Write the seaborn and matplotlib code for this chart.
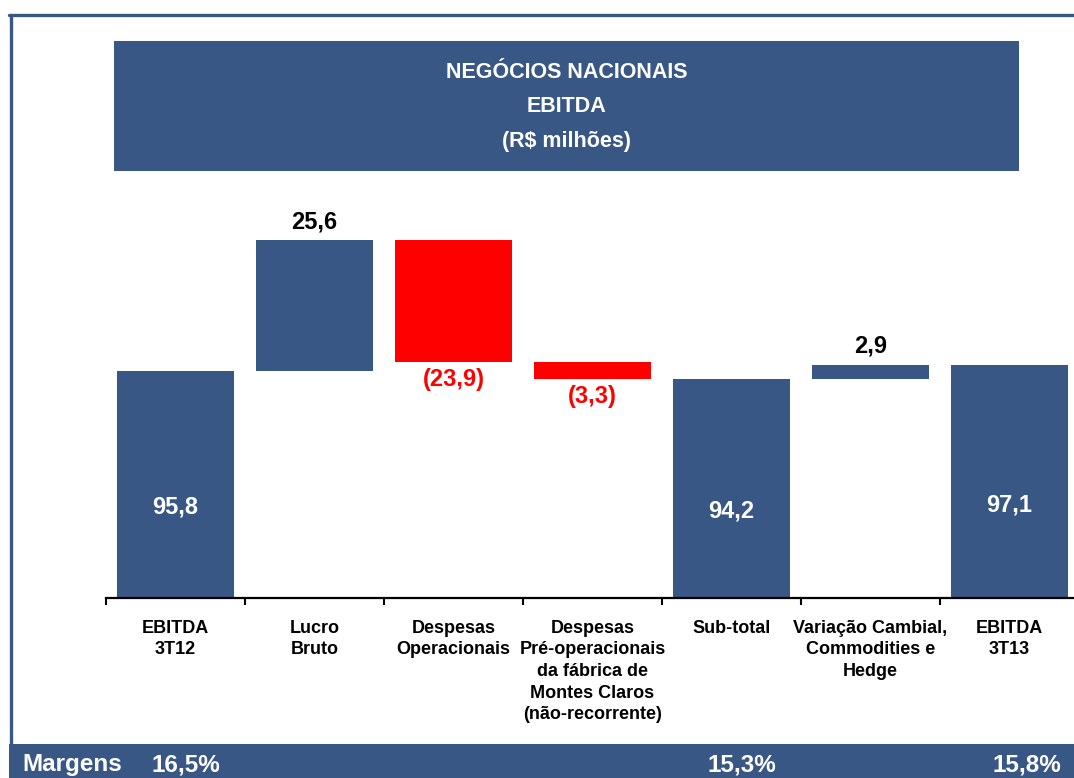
import matplotlib
matplotlib.use("Agg")
import matplotlib.pyplot as plt
import seaborn as sns
import pandas as pd
import numpy as np
from matplotlib.patches import Rectangle
from matplotlib.lines import Line2D

# ---------------- data ----------------
categories = ["EBITDA\n3T12", "Lucro\nBruto", "Despesas\nOperacionais",
              "Despesas\nPré-operacionais\nda fábrica de\nMontes Claros\n(não-recorrente)",
              "Sub-total", "Variação Cambial,\nCommodities e\nHedge", "EBITDA\n3T13"]
values = [95.8, 25.6, -23.9, -3.3, 94.2, 2.9, 97.1]
kinds = ["total", "delta", "delta", "delta", "total", "delta", "total"]
margin_labels = ["16,5%", "15,3%", "15,8%"]
title_lines = ["NEGÓCIOS NACIONAIS", "EBITDA", "(R$ milhões)"]

BLUE = "#385784"
RED = "#FF0000"

# waterfall geometry from values
bottoms, tops = [], []
running = 0.0
for v, k in zip(values, kinds):
    if k == "total":
        b, t = 0.0, v
        running = v
    else:
        b, t = running, running + v
        running = t
    bottoms.append(min(b, t))
    tops.append(max(b, t))

colors = [RED if (k == "delta" and v < 0) else BLUE for v, k in zip(values, kinds)]

def fmt(v):
    s = f"{abs(v):.1f}".replace(".", ",")
    return f"({s})" if v < 0 else s

# ---------------- figure ----------------
sns.set_theme(style="white")
plt.rcParams["font.family"] = ["Liberation Sans", "DejaVu Sans"]
plt.rcParams["font.weight"] = "bold"

W, H = 1074, 778
fig = plt.figure(figsize=(W / 100, H / 100), dpi=100)
fig.patch.set_facecolor("white")

def fx(px):
    return px / W

def fy(py):
    return 1 - py / H

# axes placement (pixels)
ax_left, ax_right = 106, 1079
ax_top, ax_base = 190, 598
ax = fig.add_axes([fx(ax_left), fy(ax_base), fx(ax_right - ax_left), (ax_base - ax_top) / H])
ax.set_facecolor("none")

df = pd.DataFrame({"cat": categories, "top": tops})
sns.barplot(data=df, x="cat", y="top", hue="cat", order=categories, hue_order=categories,
            palette=dict(zip(categories, colors)), legend=False, width=0.835,
            saturation=1, ax=ax, errorbar=None)

for p in ax.patches:
    idx = int(round(p.get_x() + p.get_width() / 2))
    p.set_y(bottoms[idx])
    p.set_height(tops[idx] - bottoms[idx])
    p.set_edgecolor("none")

y0 = 51.5
k = 5.12  # px per unit
ax.set_ylim(y0, y0 + (ax_base - ax_top) / k)
ax.set_xlim(-0.5, len(categories) - 0.5)

# value labels
for i, (v, kd) in enumerate(zip(values, kinds)):
    if kd == "total":
        ax.text(i, y0 + 0.4 * (tops[i] - y0), fmt(v), color="white", fontsize=17,
                fontweight="bold", ha="center", va="center")
    elif v >= 0:
        ax.annotate(fmt(v), (i, tops[i]), xytext=(0, 13), textcoords="offset points",
                    ha="center", va="center", fontsize=17, fontweight="bold", color="black")
    else:
        ax.annotate(fmt(v), (i, bottoms[i]), xytext=(0, -12.5), textcoords="offset points",
                    ha="center", va="center", fontsize=17, fontweight="bold", color=RED)

# axes styling
for s in ["left", "top", "right"]:
    ax.spines[s].set_visible(False)
ax.spines["bottom"].set_color("black")
ax.spines["bottom"].set_linewidth(1.6)
ax.set_yticks([])
ax.set_ylabel("")
ax.set_xlabel("")
ax.set_xticks(range(len(categories)))
ax.set_xticklabels(categories, fontsize=13, fontweight="bold", color="black",
                   linespacing=1.36, va="top")
ax.set_xticks(np.arange(-0.5, len(categories), 1.0), minor=True)
ax.tick_params(axis="x", which="major", length=0, pad=15.5)
ax.tick_params(axis="x", which="minor", length=5, width=1.5, color="black",
               direction="out", bottom=True)

# ---------------- decorations ----------------
# frame lines
fig.add_artist(Line2D([fx(9), fx(1074)], [fy(14.5), fy(14.5)], color=BLUE, lw=2.4,
                      transform=fig.transFigure))
fig.add_artist(Line2D([fx(10.5), fx(10.5)], [fy(14.5), fy(744)], color=BLUE, lw=2.4,
                      transform=fig.transFigure))
# bottom band
fig.add_artist(Rectangle((fx(9), 0), fx(1074 - 9), (778 - 744) / H, facecolor=BLUE,
                         edgecolor="none", transform=fig.transFigure))
# title box
fig.add_artist(Rectangle((fx(114), fy(171)), fx(1019 - 114), (171 - 41) / H,
                         facecolor=BLUE, edgecolor="none", transform=fig.transFigure))
for line, py in zip(title_lines, [73, 106, 142]):
    fig.text(fx(566.5), fy(py), line, color="white", fontsize=15.5, fontweight="bold",
             ha="center", va="center")

fig.text(fx(22), fy(765), "Margens", color="white", fontsize=17.5, fontweight="bold",
         ha="left", va="center")
for lab, px in zip(margin_labels, [186, 742, 1027]):
    fig.text(fx(px), fy(765), lab, color="white", fontsize=17.5, fontweight="bold",
             ha="center", va="center")

fig.savefig("out.png", dpi=100)
